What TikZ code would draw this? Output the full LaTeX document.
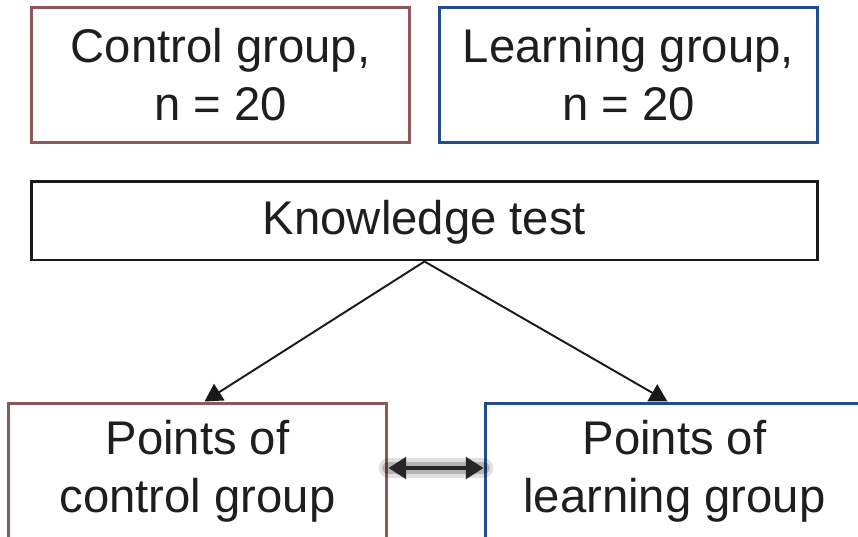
\documentclass[tikz,border=0pt]{standalone}
\usepackage{fontspec}
\setmainfont{Liberation Sans}
\usetikzlibrary{
    calc,
    arrows.meta
}
\definecolor{ctrlred}{RGB}{140,88,92}
\definecolor{learnblue}{RGB}{31,78,140}
\definecolor{txtgray}{RGB}{30,30,30}
\tikzset{
  every node/.style={
    text=txtgray,
    font=\fontsize{26.9}{33}\selectfont,
    align=center,
    inner sep=0pt
  },
  box/.style={
    draw,
    line width=1.7pt,
    minimum width=7.58cm,
    minimum height=2.72cm
  },
  arr/.style={
    black!90,
    line width=1.1pt,
    -{Triangle[length=10pt,width=11pt]}
  }
}

\begin{document}
\begin{tikzpicture}[x=0.02cm,y=-0.02cm]
    \useasboundingbox (0,0) rectangle (858,537);
    %-------------------------
    %groups
    %-------------------------
    \node[box,draw=ctrlred] (ctrl) at (220.5,75) {Control group,\\n = 20};
    \node[box,draw=learnblue] (learn) at (628.5,75) {Learning group,\\n = 20};

    \node[box,draw=black!90,minimum width=15.74cm,minimum height=1.58cm,text depth=0.12cm] (know) at (424.5,220.5) {Knowledge test};

    %-------------------------
    %points
    %-------------------------
    \node[box,draw=ctrlred] (pctrl) at (197.5,471) {Points of\\control group};
    \node[box,draw=learnblue] (plearn) at (674.5,471) {Points of\\learning group};

    \draw[arr] (know.south) -- ([xshift=0.14cm]pctrl.north);
    \draw[arr] (know.south) -- ([xshift=-0.14cm]plearn.north);

    \draw[black,opacity=0.12,line width=11pt,line cap=round] ([yshift=0.06cm]pctrl.east) -- ([yshift=0.06cm]plearn.west);
    \draw[black,opacity=0.2,line width=7pt,line cap=round] ([yshift=0.06cm]pctrl.east) -- ([yshift=0.06cm]plearn.west);
    \draw[black!85,line width=2.6pt,{Triangle[length=10pt,width=12pt]}-{Triangle[length=10pt,width=12pt]}] ([yshift=0.06cm]pctrl.east) -- ([yshift=0.06cm]plearn.west);

    \end{tikzpicture}
\end{document}
